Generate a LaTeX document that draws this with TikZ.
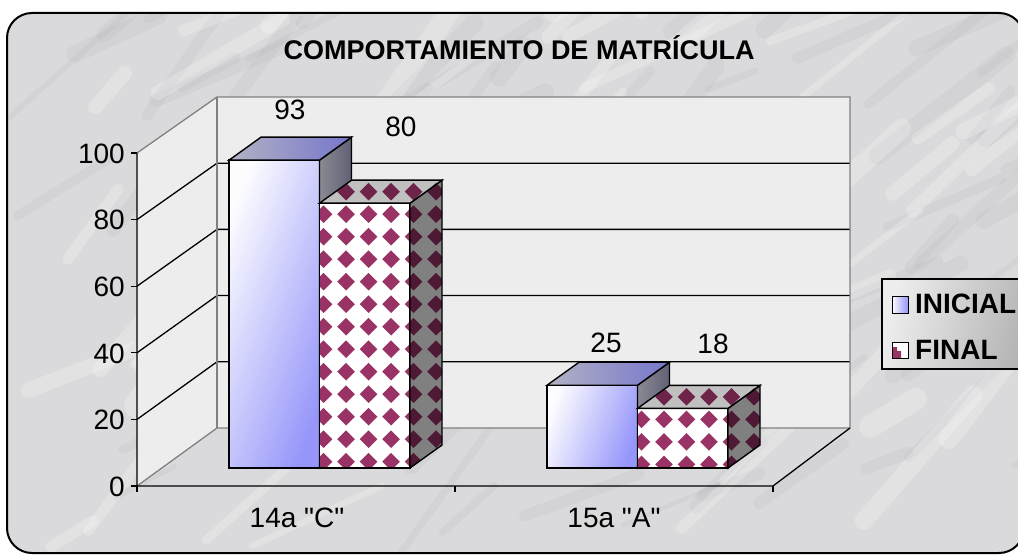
\documentclass[tikz,border=0pt]{standalone}
\usepackage{fontspec}
\setmainfont{Liberation Sans}[Ligatures=TeXOff]
\definecolor{bgc}{RGB}{218,218,220}
\definecolor{wallc}{RGB}{237,237,237}
\definecolor{gridg}{RGB}{128,128,128}
\definecolor{inicL}{RGB}{252,252,255}
\definecolor{inicR}{RGB}{150,150,250}
\definecolor{inicTL}{RGB}{178,178,196}
\definecolor{inicTR}{RGB}{118,118,205}
\definecolor{inicSL}{RGB}{138,138,148}
\definecolor{inicSR}{RGB}{96,96,116}
\definecolor{finF}{RGB}{153,51,102}
\definecolor{finT}{RGB}{110,35,72}
\definecolor{finS}{RGB}{78,25,52}
\definecolor{finTbg}{RGB}{192,192,192}
\definecolor{finSbg}{RGB}{128,128,128}

% screen-space grid of diamonds: x0, y0, nx, ny, colour
\newcommand{\dgrid}[5]{%
  \foreach \i in {0,...,#3}{\foreach \j in {0,...,#4}{%
    \fill[#5] ({#1+\i*22.5},{#2+\j*22.5}) +(-8.8,0) -- +(0,-8.8) -- +(8.8,0) -- +(0,8.8) -- cycle;}}}

\newcommand{\barI}[2]{%
  \pgfmathsetmacro\yt{468-3.31*#2}%
  \pgfmathsetmacro\xr{#1+90.5}%
  \path[barline, left color=inicL, right color=inicR, shading angle=70] (#1,\yt) rectangle (\xr,468);
  \path[barline, left color=inicSL, right color=inicSR] (\xr,\yt) -- ++(32,-23) -- ({\xr+32},445) -- (\xr,468) -- cycle;
  \path[barline, left color=inicTL, right color=inicTR] (#1,\yt) -- ++(32,-23) -- ++(90.5,0) -- (\xr,\yt) -- cycle;
}

\newcommand{\barF}[2]{%
  \pgfmathsetmacro\yt{468-3.31*#2}%
  \pgfmathsetmacro\xr{#1+90.5}%
  \pgfmathsetmacro\gx{#1+4-22.5}%
  \pgfmathsetmacro\gy{\yt+11-45}%
  \pgfmathtruncatemacro\gny{(468-\yt)/22.5+3}%
  % front
  \fill[white] (#1,\yt) rectangle (\xr,468);
  \begin{scope}
    \clip (#1,\yt) rectangle (\xr,468);
    \dgrid{\gx}{\gy}{7}{\gny}{finF}
  \end{scope}
  \draw[barline] (#1,\yt) rectangle (\xr,468);
  % side
  \fill[finSbg] (\xr,\yt) -- ++(32,-23) -- ({\xr+32},445) -- (\xr,468) -- cycle;
  \begin{scope}
    \clip (\xr,\yt) -- ++(32,-23) -- ({\xr+32},445) -- (\xr,468) -- cycle;
    \dgrid{\gx}{\gy}{7}{\gny}{finS}
  \end{scope}
  \draw[barline] (\xr,\yt) -- ++(32,-23) -- ({\xr+32},445) -- (\xr,468) -- cycle;
  % top
  \fill[finTbg] (#1,\yt) -- ++(32,-23) -- ++(90.5,0) -- (\xr,\yt) -- cycle;
  \begin{scope}
    \clip (#1,\yt) -- ++(32,-23) -- ++(90.5,0) -- (\xr,\yt) -- cycle;
    \dgrid{\gx}{\gy}{7}{\gny}{finT}
  \end{scope}
  \draw[barline] (#1,\yt) -- ++(32,-23) -- ++(90.5,0) -- (\xr,\yt) -- cycle;
}

\begin{document}
\begin{tikzpicture}[x=1pt,y=-1pt,
  wall/.style={draw=gridg, line width=1.3pt},
  gridl/.style={draw=black, line width=1.3pt},
  barline/.style={draw=black, line width=1.4pt},
  lab/.style={font=\fontsize{28}{30}\selectfont, inner sep=0pt},
  blab/.style={font=\bfseries\fontsize{27}{30}\selectfont, inner sep=0pt},
  leglab/.style={font=\bfseries\fontsize{28}{30}\selectfont, inner sep=0pt}]
\useasboundingbox (0,0) rectangle (1018,556);
\fill[white] (0,0) rectangle (1018,556);
\fill[bgc, rounded corners=25pt] (7,13) rectangle (1024,553);
% marble veins
\begin{scope}
  \clip[rounded corners=25pt] (7,13) rectangle (1024,553);
  \pgfmathsetseed{42}
  \foreach \k in {1,...,70}{
    \pgfmathsetmacro\sx{rnd*1018}
    \pgfmathsetmacro\sy{rnd*556}
    \pgfmathsetmacro\sl{40+rnd*160}
    \pgfmathsetmacro\sa{20+rnd*35}
    \pgfmathsetmacro\sw{4+rnd*14}
    \draw[line width=\sw pt, color=gray, opacity=0.07, line cap=round] (\sx,\sy) -- ++({\sl*cos(\sa)},{-\sl*sin(\sa)});
  }
  \foreach \k in {1,...,60}{
    \pgfmathsetmacro\sx{rnd*1018}
    \pgfmathsetmacro\sy{rnd*556}
    \pgfmathsetmacro\sl{40+rnd*160}
    \pgfmathsetmacro\sa{20+rnd*35}
    \pgfmathsetmacro\sw{6+rnd*18}
    \draw[line width=\sw pt, color=white, opacity=0.22, line cap=round] (\sx,\sy) -- ++({\sl*cos(\sa)},{-\sl*sin(\sa)});
  }
\end{scope}
\draw[black, line width=2pt, rounded corners=25pt] (7,13) rectangle (1024,553);

% walls
\fill[wallc] (217,97) rectangle (850,428);
\fill[wallc] (137,153) -- (217,97) -- (217,428) -- (137,486) -- cycle;
% gridlines
\foreach \v in {20,40,60,80}{
  \pgfmathsetmacro\yb{428-3.31*\v}
  \pgfmathsetmacro\yf{486-3.33*\v}
  \draw[gridl] (137,\yf) -- (217,\yb) -- (850,\yb);
}
\draw[wall] (137,153) -- (217,97) -- (850,97) -- (850,428) -- (217,428) -- (137,486);
\draw[wall] (217,97) -- (217,428);
% axes
\draw[gridl] (137,153) -- (137,486) -- (773,486) -- (850,428);
\foreach \v in {0,...,5} \draw[gridl] (131,{486-66.6*\v}) -- (137,{486-66.6*\v});
\foreach \x in {137,455,773} \draw[gridl] (\x,486) -- (\x,492);

% axis labels
\node[lab, anchor=east] (y0) at (125,487) {0};
\node[lab, anchor=east] (y20) at (125,420) {20};
\node[lab, anchor=east] (y40) at (125,353.5) {40};
\node[lab, anchor=east] (y60) at (125,287) {60};
\node[lab, anchor=east] (y80) at (125,220) {80};
\node[lab, anchor=east] (y100) at (125,153.5) {100};
\node[lab] (c1) at (297,518) {14a "C"};
\node[lab] (c2) at (614,518) {15a "A"};

% bars
\barI{229}{93}
\barF{319.5}{80}
\barI{547}{25}
\barF{637.5}{18}

% value labels
\node[lab] (v93) at (290,110) {93};
\node[lab] (v80) at (401,127) {80};
\node[lab] (v25) at (606,343) {25};
\node[lab] (v18) at (713,344) {18};

% title
\node[blab] (title) at (519,48) {COMPORTAMIENTO DE MATRÍCULA};

% legend
\path[draw=black, line width=1.3pt, left color=gray!14, right color=gray!60, shading angle=75] (882,279) rectangle (1034,369);
\path[draw=black, line width=1pt, left color=inicL, right color=inicR] (892,297) rectangle (908,313);
\fill[white] (892,342) rectangle (908,358);
\fill[finF] (892,347) -- (897,347) -- (897,351) -- (901,351) -- (901,358) -- (892,358) -- cycle;
\draw[black, line width=1pt] (892,342) rectangle (908,358);
\node[leglab, anchor=west] (lI) at (915,304) {INICIAL};
\node[leglab, anchor=west] (lF) at (915,350) {FINAL};
\end{tikzpicture}
\end{document}
